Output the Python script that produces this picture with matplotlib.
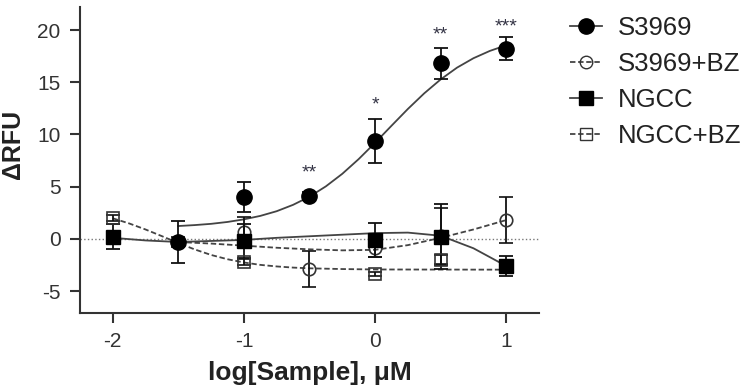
import numpy as np
import matplotlib
matplotlib.use("Agg")
import matplotlib.pyplot as plt
from matplotlib.lines import Line2D

plt.rcParams['font.family'] = ['Liberation Sans', 'DejaVu Sans']
plt.rcParams['axes.unicode_minus'] = False

# mean +/- SEM
s3969_x = [-1.5, -1, -0.5, 0, 0.5, 1]
s3969_y = [-0.3, 4.0, 4.1, 9.4, 16.8, 18.2]
s3969_e = [2.0, 1.45, 0.4, 2.1, 1.5, 1.1]

s3969bz_x = [-1.5, -1, -0.5, 0, 0.5, 1]
s3969bz_y = [-0.3, 0.7, -2.9, -0.9, 0.3, 1.8]
s3969bz_e = [0.5, 1.4, 1.7, 0.8, 2.7, 2.2]

ngcc_x = [-2, -1, 0, 0.5, 1]
ngcc_y = [0.2, -0.2, -0.1, 0.2, -2.6]
ngcc_e = [1.2, 1.6, 1.6, 3.1, 1.0]

ngccbz_x = [-2, -1, 0, 0.5]
ngccbz_y = [2.0, -2.2, -3.4, -2.0]
ngccbz_e = [0.3, 0.3, 0.2, 0.5]

# fitted curves
fit_s3969_x = [-1.5, -1.375, -1.25, -1.125, -1.0, -0.875, -0.75, -0.625, -0.5, -0.375, -0.25,
               -0.125, 0.0, 0.125, 0.25, 0.375, 0.5, 0.625, 0.75, 0.875, 1.0]
fit_s3969_y = [1.23, 1.32, 1.44, 1.62, 1.87, 2.20, 2.65, 3.26, 4.04, 5.03, 6.23,
               7.64, 9.20, 10.83, 12.44, 13.94, 15.27, 16.40, 17.30, 18.00, 18.54]

fit_s3969bz_x = [-1.5, -1.25, -1.0, -0.75, -0.5, -0.25, 0.0, 0.25, 0.5, 0.75, 1.0]
fit_s3969bz_y = [-0.3, -0.45, -0.65, -0.85, -1.0, -1.1, -1.05, -0.6, 0.1, 0.9, 1.8]

fit_ngcc_x = [-2.0, -1.75, -1.5, -1.25, -1.0, -0.75, -0.5, -0.25, 0.0, 0.25, 0.5, 0.75, 1.0]
fit_ngcc_y = [0.1, -0.15, -0.3, -0.2, -0.1, 0.1, 0.25, 0.4, 0.55, 0.6, 0.3, -0.9, -2.6]

fit_ngccbz_x = [-2.0, -1.875, -1.75, -1.625, -1.5, -1.375, -1.25, -1.125, -1.0, -0.875,
                -0.75, -0.625, -0.5, -0.25, 0.0, 0.5, 1.0]
fit_ngccbz_y = [1.97, 1.48, 0.90, 0.26, -0.40, -1.01, -1.54, -1.95, -2.26, -2.49,
                -2.64, -2.75, -2.82, -2.89, -2.93, -2.94, -2.95]

stars_x = [-0.5, 0, 0.5, 1]
stars_y = [6.3, 12.8, 19.5, 20.3]
stars_txt = ['**', '*', '**', '***']

labels = ['S3969', 'S3969+BZ', 'NGCC', 'NGCC+BZ']

fig = plt.figure(figsize=(7.47, 3.92), dpi=100)
ax = fig.add_axes([0.107, 0.2015, 0.6146, 0.7805])

dark = '#111111'
curve_c = '#444444'
dash = (0, (3, 1.5))

ax.axhline(0, color='#777777', linestyle=':', linewidth=1, zorder=1)

ax.plot(fit_s3969_x, fit_s3969_y, color=curve_c, lw=1.3, zorder=2)
ax.plot(fit_s3969bz_x, fit_s3969bz_y, color=curve_c, lw=1.3, linestyle=dash, zorder=2)
ax.plot(fit_ngcc_x, fit_ngcc_y, color=curve_c, lw=1.3, zorder=2)
ax.plot(fit_ngccbz_x, fit_ngccbz_y, color=curve_c, lw=1.3, linestyle=dash, zorder=2)

eb = dict(ecolor=dark, elinewidth=1.3, capsize=5, capthick=1.3, linestyle='none')
ax.errorbar(s3969_x, s3969_y, yerr=s3969_e, marker='o', ms=11, mfc='black', mec='black', zorder=4, **eb)
ax.errorbar(s3969bz_x, s3969bz_y, yerr=s3969bz_e, marker='o', ms=9, mfc='none', mec='#333333',
            mew=1.2, zorder=3, **eb)
ax.errorbar(ngcc_x, ngcc_y, yerr=ngcc_e, marker='s', ms=10, mfc='black', mec='black', zorder=5, **eb)
ax.errorbar(ngccbz_x, ngccbz_y, yerr=ngccbz_e, marker='s', ms=9, mfc='none', mec='#333333',
            mew=1.2, zorder=6, **eb)

for x, y, t in zip(stars_x, stars_y, stars_txt):
    ax.text(x, y, t, ha='center', va='center', fontsize=14, color='#333344')

ax.set_xlim(-2.25, 1.25)
ax.set_ylim(-7.1, 22.2)
ax.set_xticks([-2, -1, 0, 1])
ax.set_yticks([-5, 0, 5, 10, 15, 20])
for s in ['top', 'right']:
    ax.spines[s].set_visible(False)
for s in ['left', 'bottom']:
    ax.spines[s].set_linewidth(1.5)
    ax.spines[s].set_color('#333333')
ax.tick_params(length=7, width=1.5, color='#333333', labelsize=15, labelcolor='#333333', pad=7)

ax.set_xlabel('log[Sample], μM', fontsize=19, fontweight='bold', color='#222222', labelpad=7)
ax.set_ylabel('ΔRFU', fontsize=18, fontweight='bold', color='#222222')
ax.yaxis.set_label_coords(-0.12, 0.55)

handles = [
    Line2D([], [], color=curve_c, lw=1.3, marker='o', ms=11, mfc='black', mec='black'),
    Line2D([], [], color=curve_c, lw=1.3, linestyle=dash, marker='o', ms=9, mfc='none', mec='#333333'),
    Line2D([], [], color=curve_c, lw=1.3, marker='s', ms=10, mfc='black', mec='black'),
    Line2D([], [], color=curve_c, lw=1.3, linestyle=dash, marker='s', ms=9, mfc='none', mec='#333333'),
]
fig.legend(handles, labels, loc='upper left', bbox_to_anchor=(0.763, 0.959), frameon=False,
           fontsize=18.5, handlelength=1.25, handletextpad=0.62, labelspacing=0.47,
           borderaxespad=0, borderpad=0, labelcolor='#222222')

fig.savefig('out.png', dpi=100)
